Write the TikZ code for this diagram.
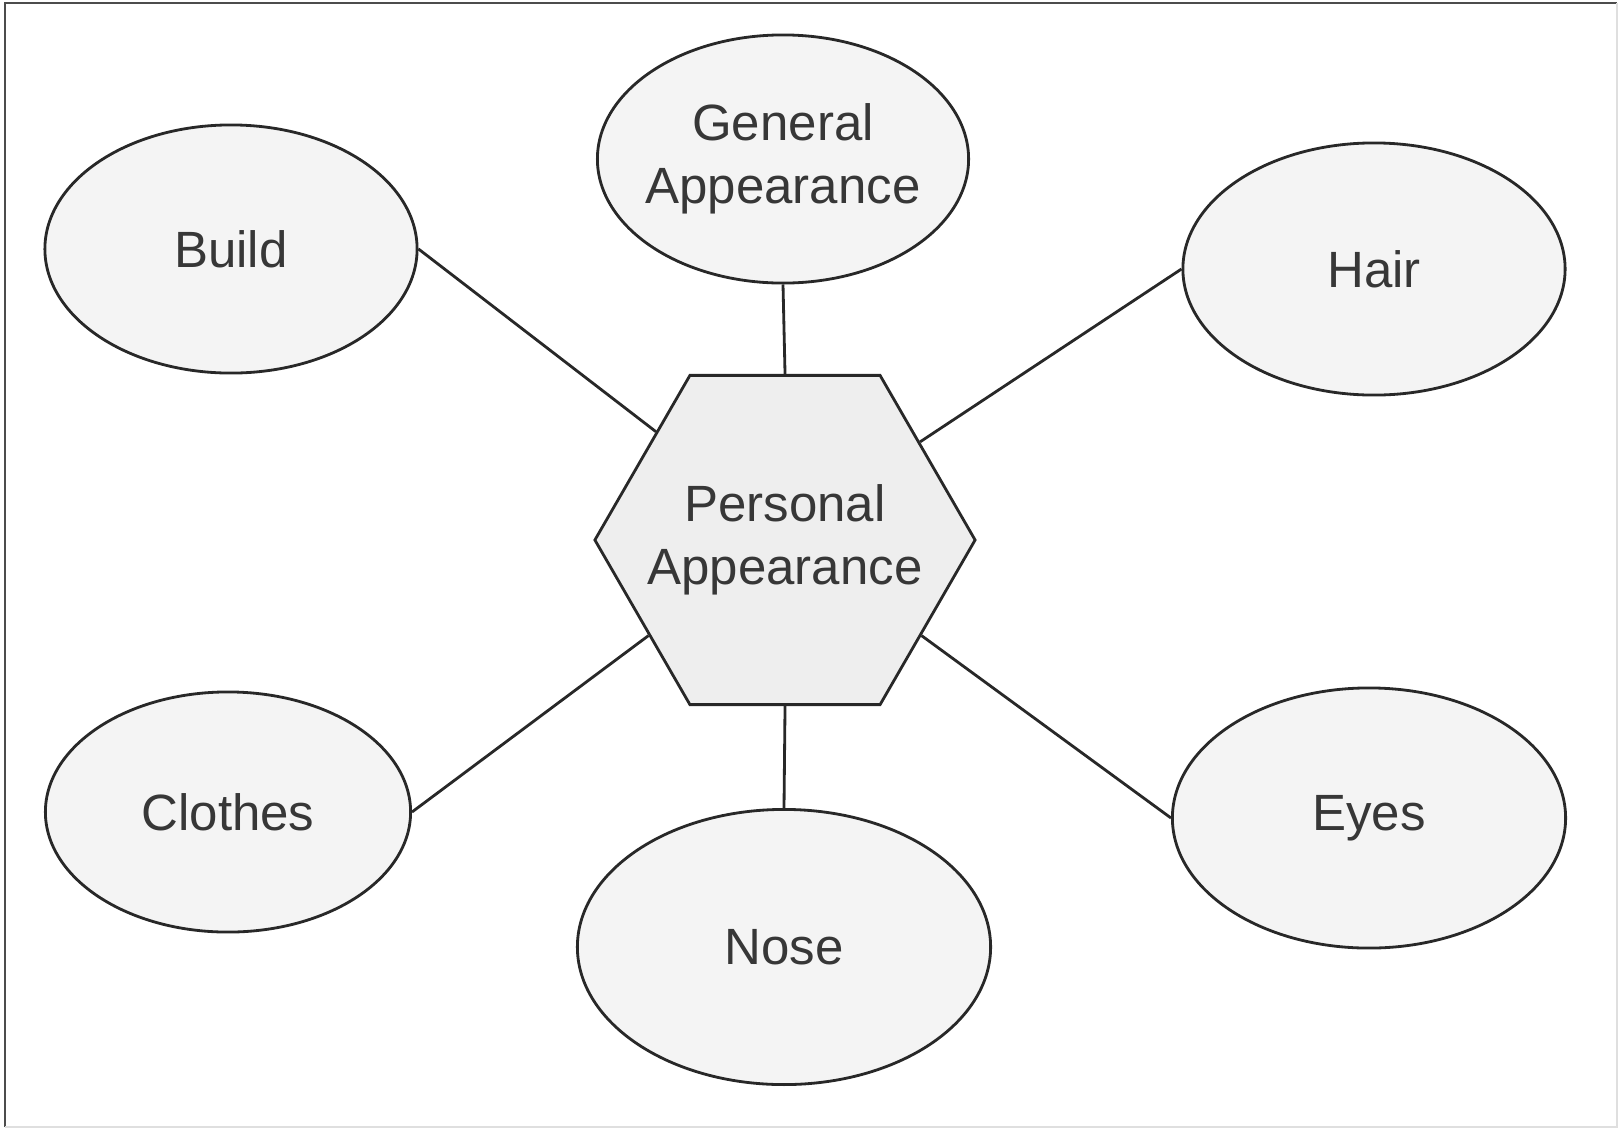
\documentclass[tikz,border=0pt]{standalone}
\usepackage{fontspec}
\setmainfont{Liberation Sans}
\usetikzlibrary{shapes.geometric}
\definecolor{blobfill}{RGB}{244,244,244}
\definecolor{hexfill}{RGB}{238,238,238}
\definecolor{inkg}{RGB}{55,55,55}
\definecolor{lineg}{RGB}{40,40,40}
\tikzset{
  blob/.style={ellipse, draw=lineg, line width=0.8pt, fill=blobfill, text=inkg,
    inner sep=-3pt, align=center, font=\fontsize{14.5}{18}\selectfont},
  hexa/.style={regular polygon, regular polygon sides=6, draw=lineg, line width=0.8pt,
    fill=hexfill, text=inkg, inner sep=-12pt, minimum size=3.8cm, align=center,
    font=\fontsize{14.5}{18}\selectfont},
  link/.style={draw=lineg, line width=0.8pt},
}

\begin{document}
\begin{tikzpicture}[x=0.01cm,y=-0.01cm]
\useasboundingbox (0,0) rectangle (1621,1130);
% frame
\draw[gray!60!black, line width=0.6pt] (5,1127) -- (5,3) -- (1617,3);
\draw[gray!25, line width=0.6pt] (1617,3) -- (1617,1127) -- (5,1127);

\node[hexa] (pa) at (785,540) {Personal\\Appearance};
\node[blob, minimum width=3.71cm, minimum height=2.48cm] (general) at (783,159) {General\\Appearance};
\node[blob, minimum width=3.72cm, minimum height=2.48cm] (build) at (231,249) {Build};
\node[blob, minimum width=3.82cm, minimum height=2.52cm] (hair) at (1374,269) {Hair};
\node[blob, minimum width=3.65cm, minimum height=2.40cm] (clothes) at (228,812) {Clothes};
\node[blob, minimum width=4.13cm, minimum height=2.75cm] (nose) at (784,947) {Nose};
\node[blob, minimum width=3.93cm, minimum height=2.60cm] (eyes) at (1369,818) {Eyes};

\draw[link] (general.south) -- (pa.north);
\draw[link] (build.east) -- (pa.140);
\draw[link] (hair.west) -- (pa.36);
\draw[link] (clothes.east) -- (pa.215);
\draw[link] (eyes.west) -- (pa.325);
\draw[link] (pa.south) -- (nose.north);
\end{tikzpicture}
\end{document}
